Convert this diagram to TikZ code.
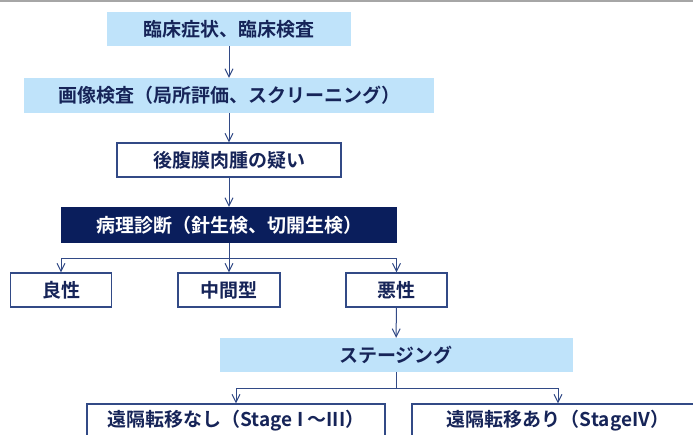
\documentclass[tikz,border=0pt]{standalone}
\usepackage{fontspec}
\newfontfamily\jpbold{Noto Sans CJK JP Bold}
\usetikzlibrary{arrows.meta}
\definecolor{paleblue}{RGB}{191,227,250}
\definecolor{navy}{RGB}{10,30,92}
\definecolor{inkblue}{RGB}{22,36,88}
\definecolor{edgeblue}{RGB}{50,74,134}
\definecolor{rulegray}{RGB}{166,166,166}

\begin{document}
\begin{tikzpicture}[x=1pt,y=1pt,
		box/.style={inner sep=0pt,minimum height=34pt,text=inkblue,font=\jpbold\fontsize{19}{22}\selectfont},
		pale/.style={box,fill=paleblue},
		dark/.style={box,fill=navy,text=white},
		frame/.style={box,draw=edgeblue,line width=1.2pt,fill=white},
		arr/.style={draw=edgeblue,line width=1pt,-{Straight Barb[length=8pt,width=8pt]}},
		link/.style={draw=edgeblue,line width=1pt}]
			\useasboundingbox (0,0) rectangle (693,435);
			\clip (0,0) rectangle (693,435);
			\fill[rulegray] (0,433) rectangle (693,435);
			\node[pale,minimum width=244pt] (clinic) at (229,406) {臨床症状、臨床検査};
			\node[pale,minimum width=410pt,minimum height=35pt] (imaging) at (229,339.5) {画像検査（局所評価、スクリーニング）};
			\node[frame,minimum width=224pt] (suspect) at (229,275) {後腹膜肉腫の疑い};
			\node[dark,minimum width=336pt,minimum height=36pt] (patho) at (229,210) {病理診断（針生検、切開生検）};
			\node[frame,minimum width=101pt] (benign) at (61,145) {良性};
			\node[frame,minimum width=102pt] (inter) at (229,145) {中間型};
			\node[frame,minimum width=101pt] (malign) at (396.5,145) {悪性};
			\node[pale,minimum width=353pt] (staging) at (396,80) {ステージング};
			\node[frame,minimum width=298pt] (nomets) at (236,14) {遠隔転移なし（Stage I ～III）};
			\node[frame,minimum width=292pt] (mets) at (558,14) {遠隔転移あり（StageIV）};
			\coordinate (split1) at (229,176.7);
			\coordinate (split2) at (396.5,46.7);
			\draw[arr] (clinic) -- (imaging);
			\draw[arr] (imaging) -- (suspect);
			\draw[arr] (suspect) -- (patho);
			\draw[link] (patho) -- (split1);
			\draw[arr] (split1) -| (benign.north);
			\draw[arr] (split1) -- (inter);
			\draw[arr] (split1) -| (malign.north);
			\draw[arr] (malign) -- (staging);
			\draw[link] (staging.south -| split2) -- (split2);
			\draw[arr] (split2) -| (nomets.north);
			\draw[arr] (split2) -| (mets.north);
		\end{tikzpicture}
\end{document}
